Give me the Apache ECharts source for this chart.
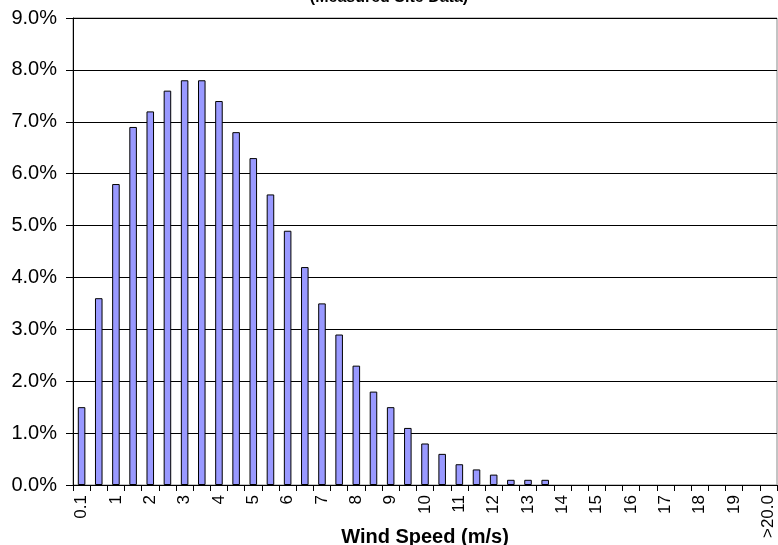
<!DOCTYPE html>
<html>
<head>
<meta charset="utf-8">
<script src="https://cdn.jsdelivr.net/npm/echarts@6/dist/echarts.min.js"></script>
<style>
html,body{margin:0;padding:0;background:#fff;}
#c{width:778px;height:545px;}
</style>
</head>
<body>
<div id="c"></div>
<script>
var categories = ['0.1','0.5','1','1.5','2','2.5','3','3.5','4','4.5','5','5.5','6','6.5','7','7.5','8','8.5','9','9.5',
  '10','10.5','11','11.5','12','12.5','13','13.5','14','14.5','15','15.5','16','16.5','17','17.5','18','18.5','19','19.5','>20.0'];
var frequency = [1.5,3.6,5.8,6.9,7.2,7.6,7.8,7.8,7.4,6.8,6.3,5.6,4.9,4.2,3.5,2.9,2.3,1.8,1.5,1.1,
  0.8,0.6,0.4,0.3,0.2,0.1,0.1,0.1,0,0,0,0,0,0,0,0,0,0,0,0,0];
var yMin = 0, yMax = 9, yStep = 1;
var titleText = 'Wind Speed Frequency Distribution\n(Measured Site Data)';
var xName = 'Wind Speed (m/s)';

var chart = echarts.init(document.getElementById('c'));
chart.setOption({
  animation: false,
  textStyle: {fontFamily: 'Liberation Sans, Arial, sans-serif'},
  title: {
    text: titleText,
    left: 'center',
    top: -37,
    textStyle: {fontFamily: 'Liberation Sans', fontWeight: 'bold', fontSize: 16, color: '#000', lineHeight: 20}
  },
  grid: {left: 73, right: 1, top: 18, bottom: 60, show: true, borderColor: '#888', borderWidth: 1, outerBoundsMode: 'none', containLabel: false},
  xAxis: {
    type: 'category',
    data: categories,
    name: xName,
    nameLocation: 'middle',
    nameGap: 42,
    nameMoveOverlap: false,
    nameTextStyle: {fontFamily: 'Liberation Sans', fontWeight: 'bold', fontSize: 20, color: '#000'},
    axisLine: {lineStyle: {color: '#000', width: 1}},
    axisTick: {show: true, interval: 0, length: 6, lineStyle: {color: '#000'}},
    axisLabel: {interval: 1, rotate: 90, fontSize: 17, color: '#000', margin: 10, fontFamily: 'Liberation Sans'},
    splitLine: {show: false}
  },
  yAxis: {
    type: 'value',
    min: yMin, max: yMax, interval: yStep,
    axisLine: {show: true, lineStyle: {color: '#000', width: 1}},
    axisTick: {show: true, length: 7, lineStyle: {color: '#000'}},
    axisLabel: {fontSize: 20, color: '#000', margin: 16, fontFamily: 'Liberation Sans',
      formatter: function (v) { return v.toFixed(1) + '%'; }},
    splitLine: {show: true, lineStyle: {color: '#000', width: 1}}
  },
  series: [{
    type: 'bar',
    data: frequency.map(function (v) { return v === 0 ? '-' : v; }),
    barCategoryGap: '56%',
    itemStyle: {color: '#9999FF', borderColor: '#000', borderWidth: 1}
  }]
});
</script>
</body>
</html>
